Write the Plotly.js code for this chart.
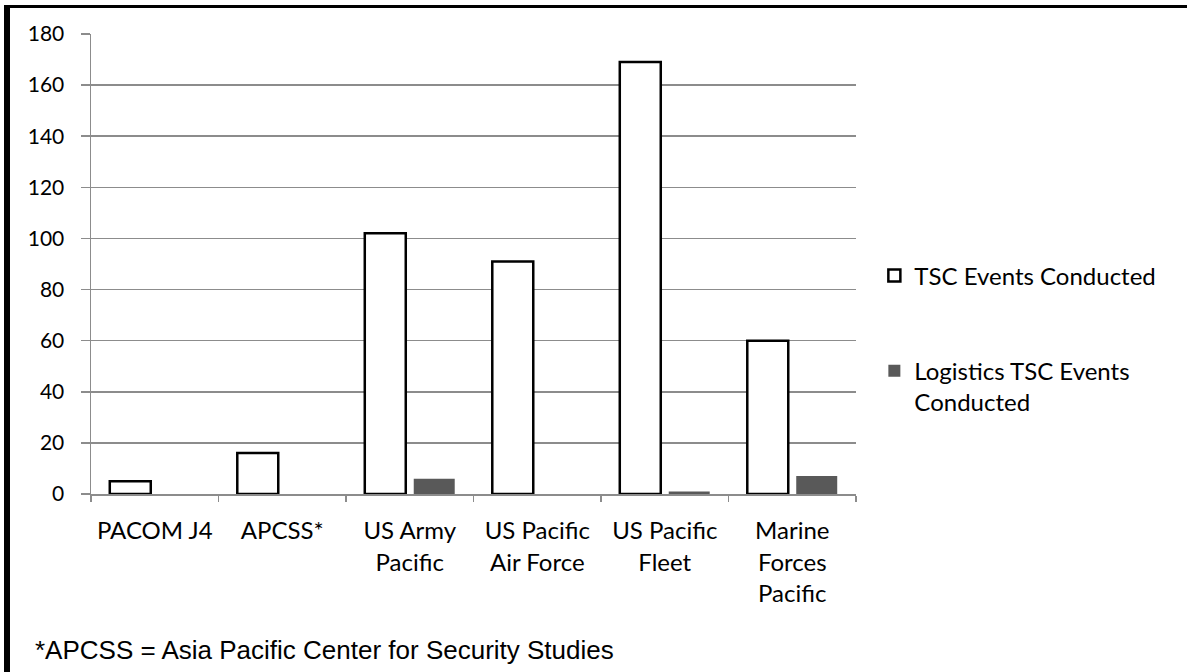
<!DOCTYPE html>
<html>
<head>
<meta charset="utf-8">
<script src="https://cdn.plot.ly/plotly-3.0.1.min.js"></script>
<style>
  html, body { margin: 0; padding: 0; background: #fff; }
  #wrap { position: relative; width: 1187px; height: 672px; overflow: hidden; }
  #chart { position: absolute; left: 0; top: 0; width: 1187px; height: 672px; }
  #bl { position: absolute; left: 4px; top: 5px; width: 6px; height: 667px; background: #000; }
  #bt { position: absolute; left: 4px; top: 5px; width: 1183px; height: 3px; background: #000; }
</style>
</head>
<body>
<div id="wrap">
  <div id="chart"></div>
  <div id="bl"></div>
  <div id="bt"></div>
</div>
<script>
const categories = ["PACOM J4", "APCSS*", "US Army<br>Pacific", "US Pacific<br>Air Force", "US Pacific<br>Fleet", "Marine<br>Forces<br>Pacific"];
const tscEvents = [5, 16, 102, 91, 169, 60];
const logisticsEvents = [0, 0, 6, 0, 1, 7];
const seriesNames = ["TSC Events Conducted", "Logistics TSC Events<br>Conducted"];
const yTicks = [0, 20, 40, 60, 80, 100, 120, 140, 160, 180];
const footnote = "*APCSS = Asia Pacific Center for Security Studies";

const traces = [
  {
    type: "bar", x: categories, y: tscEvents, name: seriesNames[0], legendgroup: "a",
    marker: { color: "#ffffff", line: { color: "#000000", width: 2.5 } },
    hoverinfo: "x+y"
  },
  {
    type: "bar", x: categories, y: logisticsEvents, name: seriesNames[1], legendgroup: "b",
    marker: { color: "#595959", line: { width: 0 } },
    hoverinfo: "x+y"
  }
];

const gridColor = "#8c8c8c";
const layout = {
  width: 1187, height: 672,
  margin: { l: 91, r: 331, t: 34, b: 178, pad: 0 },
  paper_bgcolor: "#ffffff", plot_bgcolor: "#ffffff",
  font: { family: "Lato, 'Open Sans', sans-serif", color: "#000000", size: 24 },
  barmode: "group",
  bargap: 0.232,
  bargroupgap: 0.163,
  showlegend: true,
  legend: {
    x: 1.024, xanchor: "left", y: 0.523, yanchor: "top",
    font: { family: "Lato, sans-serif", size: 24, color: "#000" },
    tracegroupgap: 61, valign: "top", bgcolor: "rgba(0,0,0,0)"
  },
  xaxis: {
    type: "category",
    showline: true, linecolor: gridColor, linewidth: 1.5,
    ticks: "outside", tickson: "boundaries", ticklen: 6, tickcolor: gridColor, tickwidth: 1.5,
    showgrid: false, zeroline: false,
    tickfont: { family: "Lato, sans-serif", size: 24, color: "#000" },
    ticklabelstandoff: 15,
    fixedrange: true
  },
  yaxis: {
    range: [0, 180], tickvals: yTicks, ticktext: yTicks.map(String),
    showline: true, linecolor: gridColor, linewidth: 1.5,
    ticks: "outside", ticklen: 9, tickcolor: gridColor, tickwidth: 1.5,
    showgrid: true, gridcolor: gridColor, gridwidth: 1.5,
    zeroline: false,
    tickfont: { family: "Lato, sans-serif", size: 21, color: "#000" },
    ticklabelstandoff: 12,
    fixedrange: true
  },
  annotations: [
    {
      text: footnote, xref: "paper", yref: "paper",
      x: -0.0758, xanchor: "left", y: -0.339, yanchor: "middle",
      showarrow: false,
      font: { family: "'Liberation Sans', Arial, sans-serif", size: 26, color: "#000" }
    }
  ]
};

Plotly.newPlot("chart", traces, layout, { displayModeBar: false, staticPlot: true });
</script>
</body>
</html>
